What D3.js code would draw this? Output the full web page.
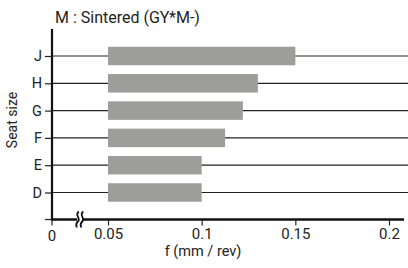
<!DOCTYPE html>
<html><head><meta charset="utf-8">
<script src="https://cdn.jsdelivr.net/npm/d3@7"></script>
<style>html,body{margin:0;padding:0;background:#fff;}svg{display:block;}text{font-family:Roboto, "DejaVu Sans", sans-serif;fill:#222;}</style>
</head><body>
<script>
const categories = ["J","H","G","F","E","D"];
const barStart = [0.05,0.05,0.05,0.05,0.05,0.05];
const barEnd = [0.15,0.13,0.122,0.1125,0.1,0.1];
const xTicks = [0.05,0.1,0.15,0.2];
const xTickLabels = ["0.05","0.1","0.15","0.2"];
const title = "M : Sintered (GY*M-)";
const xTitle = "f (mm / rev)";
const yTitle = "Seat size";

const W=408,H=268;
const svg=d3.select("body").append("svg").attr("width",W).attr("height",H);
const x0=52, axisY=219.5;
const x=d3.scaleLinear().domain([0.05,0.2]).range([108,389]);
const y=d3.scalePoint().domain(categories).range([56,192.5]);
const barH=18.5;

// gridlines
svg.append("g").selectAll("line").data(categories).join("line")
  .attr("x1",x0).attr("x2",W).attr("y1",d=>y(d)).attr("y2",d=>y(d))
  .attr("stroke","#222").attr("stroke-width",1.2);

// bars
svg.append("g").selectAll("rect").data(categories).join("rect")
  .attr("x",(d,i)=>x(barStart[i])).attr("width",(d,i)=>x(barEnd[i])-x(barStart[i]))
  .attr("y",d=>y(d)-barH/2).attr("height",barH).attr("fill","#9d9d9c");

// y axis
const ya=svg.append("g").attr("transform",`translate(${x0},0)`)
  .call(d3.axisLeft(y).tickSize(7).tickPadding(3));
ya.select(".domain").remove();
ya.selectAll("line").attr("stroke","#222").attr("stroke-width",1.2);
ya.selectAll("text").attr("font-size",14.5).attr("fill","#222");
svg.append("line").attr("x1",x0).attr("x2",x0).attr("y1",29).attr("y2",axisY+1)
  .attr("stroke","#111").attr("stroke-width",2.2);
svg.append("line").attr("x1",x0-7).attr("x2",x0).attr("y1",axisY).attr("y2",axisY)
  .attr("stroke","#222").attr("stroke-width",1.2);

// x axis
svg.append("line").attr("x1",x0-1).attr("x2",404).attr("y1",axisY).attr("y2",axisY)
  .attr("stroke","#111").attr("stroke-width",2.5);
const xa=svg.append("g").attr("transform",`translate(0,${axisY})`)
  .call(d3.axisBottom(x).tickValues(xTicks).tickFormat((d,i)=>xTickLabels[i]).tickSize(6).tickPadding(3));
xa.select(".domain").remove();
xa.selectAll("line").attr("stroke","#222").attr("stroke-width",1.2);
xa.selectAll("text").attr("font-size",15).attr("fill","#222");
// zero tick (broken axis)
svg.append("line").attr("x1",x0).attr("x2",x0).attr("y1",axisY).attr("y2",axisY+6).attr("stroke","#222").attr("stroke-width",1.2);
svg.append("text").attr("x",x0).attr("y",axisY+21).attr("text-anchor","middle").attr("font-size",15).text("0");

// break symbol
const bx=80;
svg.append("rect").attr("x",bx-3).attr("y",axisY-2).attr("width",5).attr("height",4).attr("fill","#fff");
[-2.2,2.2].forEach(o=>{
  svg.append("path").attr("d",`M${bx+o+1},${axisY-8} C${bx+o-4},${axisY-4} ${bx+o+4},${axisY-1} ${bx+o},${axisY+2} C${bx+o-3},${axisY+5} ${bx+o-1},${axisY+7} ${bx+o-1},${axisY+8}`)
   .attr("fill","none").attr("stroke","#111").attr("stroke-width",1.8);
});

// titles
svg.append("text").attr("x",55).attr("y",23).attr("font-size",16).text(title);
svg.append("text").attr("x",203).attr("y",256).attr("text-anchor","middle").attr("font-size",14.5).text(xTitle);
svg.append("text").attr("transform","translate(17,120) rotate(-90)").attr("text-anchor","middle").attr("font-size",14).text(yTitle);
</script>
</body></html>
